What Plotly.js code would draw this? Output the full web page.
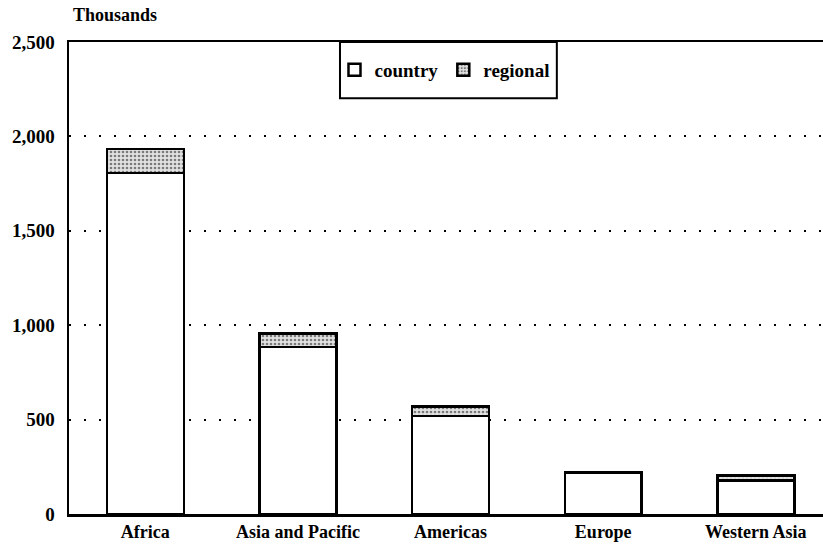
<!DOCTYPE html>
<html>
<head>
<meta charset="utf-8">
<script src="https://cdn.plot.ly/plotly-3.0.1.min.js"></script>
<style>html,body{margin:0;padding:0;background:#fff;}#chart{width:823px;height:545px;}</style>
</head>
<body>
<div id="chart"></div>
<script>
const categories = ["Africa", "Asia and Pacific", "Americas", "Europe", "Western Asia"];
const country = [1805, 885, 520, 220, 178];
const regional = [128, 70, 50, 0, 25];
const yTicks = [0, 500, 1000, 1500, 2000, 2500];

const FONT = "Liberation Serif, Times New Roman, serif";
const traces = [
  {
    type: "bar", name: "country", x: categories, y: country,
    marker: {color: "#ffffff", line: {color: "#000", width: 2.5}},
    hoverinfo: "y"
  },
  {
    type: "bar", name: "regional", x: categories, y: regional,
    marker: {color: "#d9d9d9", line: {color: "#000", width: 2.5},
      pattern: {shape: ".", fgcolor: "#7a7a7a", bgcolor: "#e2e2e2", size: 4, solidity: 0.35}},
    hoverinfo: "y"
  }
];

const layout = {
  width: 823, height: 545,
  margin: {l: 69, r: 0, t: 42, b: 31, pad: 0},
  paper_bgcolor: "#fff", plot_bgcolor: "#fff",
  barmode: "stack", bargap: 0.496,
  separators: ".,",
  font: {family: FONT, size: 19, color: "#000"},
  showlegend: true,
  legend: {
    orientation: "h", x: 0.498, xanchor: "center", y: 0.941, yanchor: "middle",
    bgcolor: "rgba(0,0,0,0)", borderwidth: 0, itemwidth: 30,
    font: {family: FONT, size: 19, color: "#000", weight: "bold"},
    traceorder: "normal"
  },
  xaxis: {
    type: "category", range: [-0.5, 4.44],
    showgrid: false, zeroline: false,
    showline: true, linecolor: "#000", linewidth: 2.5, mirror: true,
    ticks: "", ticklabelstandoff: 0,
    tickfont: {family: FONT, size: 18, color: "#000", weight: "bold"}
  },
  yaxis: {
    range: [0, 2500], tickvals: yTicks, tickformat: ",d",
    showgrid: true, gridcolor: "#000", gridwidth: 2, griddash: "2px,13px",
    zeroline: false, showline: true, linecolor: "#000", linewidth: 2.5, mirror: false,
    ticks: "", ticklabelstandoff: 8,
    tickfont: {family: FONT, size: 19, color: "#000", weight: "bold"}
  },
  shapes: [
    {type: "rect", xref: "paper", yref: "paper", x0: 0.3594, x1: 0.647, y0: 0.881, y1: 1,
     line: {color: "#000", width: 2}, fillcolor: "#fff", layer: "below"}
  ],
  annotations: [
    {text: "Thousands", xref: "paper", yref: "paper", x: 0.002, y: 1.057,
     xanchor: "left", yanchor: "middle", showarrow: false,
     font: {family: FONT, size: 18, color: "#000", weight: "bold"}}
  ]
};

Plotly.newPlot("chart", traces, layout, {displayModeBar: false, staticPlot: true});
</script>
</body>
</html>
